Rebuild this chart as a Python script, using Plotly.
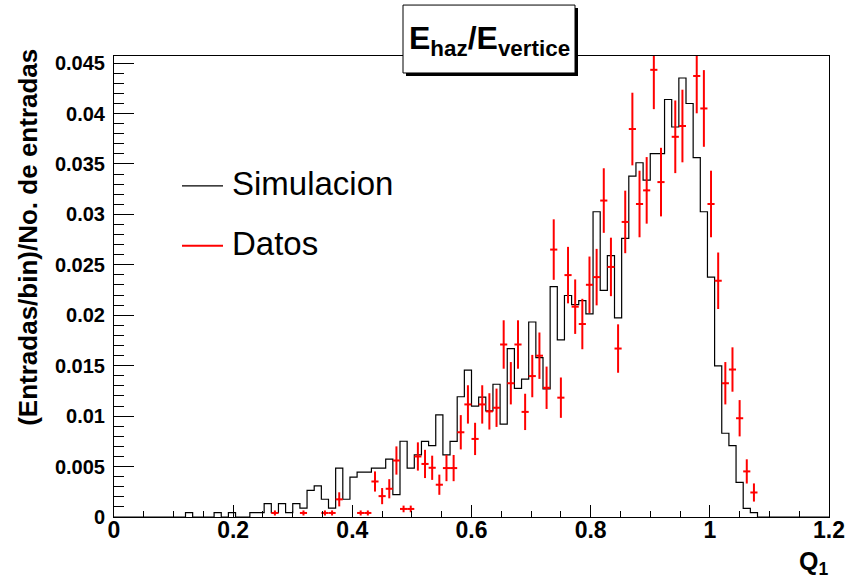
import numpy as np
import plotly.graph_objects as go

# ---------------- data ----------------
n_bins = 100
x_min, x_max = 0.0, 1.2

sim_values = [
    0, 0, 0, 0, 0, 0, 0, 0, 0, 0,
    0.00043, 0, 0, 0, 0.00043, 0, 0.00043, 0, 0, 0.00043,
    0.00043, 0.00132, 0.00043, 0.00132, 0.00043, 0.00132, 0.00088, 0.00263, 0.00308, 0.00176,
    0.00088, 0.00485, 0.00176, 0.00395, 0.00445, 0.00445, 0.00485, 0.00485, 0.00573, 0.00221,
    0.00751, 0.00485, 0.00616, 0.00749, 0.00708, 0.01012, 0.00616, 0.00749, 0.01192, 0.01456,
    0.01100, 0.01189, 0.01052, 0.01316, 0.00921, 0.01670, 0.01275, 0.01366, 0.01933, 0.01579,
    0.01271, 0.02283, 0.01756, 0.02196, 0.02105, 0.02145, 0.02014, 0.03026, 0.02247, 0.02591,
    0.01973, 0.02763, 0.03380, 0.03512, 0.03340, 0.03603, 0.03603, 0.04139, 0.03866, 0.04352,
    0.04099, 0.03562, 0.03026, 0.02378, 0.01498, 0.00830, 0.00708, 0.00344, 0.00086, 0.00043,
    0, 0, 0, 0, 0, 0, 0, 0, 0, 0,
]

data_bins = [22, 26, 29, 30, 31, 34, 35, 36, 37, 38, 39,
             40, 41, 42, 43, 44, 45, 46, 47, 48, 49,
             50, 51, 52, 53, 54, 55, 56, 57, 58, 59,
             60, 61, 62, 63, 64, 65, 66, 67, 68, 69,
             70, 71, 72, 73, 74, 75, 76, 77, 78, 79,
             80, 81, 82, 83, 84, 85, 86, 87, 88, 89]
data_values = [0.0004, 0.0004, 0.0004, 0.0004, 0.00175, 0.0004, 0.0004, 0.00352, 0.00207, 0.0028, 0.0056,
               0.0008, 0.0008, 0.0060, 0.00526, 0.00488, 0.0032, 0.00485, 0.00485, 0.0084, 0.01116,
               0.00774, 0.01116, 0.01047, 0.01083, 0.0171, 0.01326, 0.0171, 0.01042, 0.01397, 0.01599,
               0.01281, 0.02651, 0.01183, 0.02398, 0.02085, 0.01913, 0.02302, 0.02378, 0.03137, 0.02479,
               0.0167, 0.02925, 0.03846, 0.03103, 0.03238, 0.04433, 0.0332, 0.0470, 0.03769, 0.03876,
               0.0465, 0.04372, 0.0405, 0.03103, 0.02342, 0.01326, 0.01462, 0.00979, 0.00452, 0.00243]
data_errors = [0.00025, 0.00025, 0.00025, 0.00025, 0.0007, 0.00025, 0.00025, 0.001, 0.0008, 0.00095, 0.0014,
               0.00033, 0.00033, 0.0014, 0.0014, 0.0012, 0.001, 0.0013, 0.0013, 0.0017, 0.0019,
               0.0016, 0.0019, 0.0018, 0.0019, 0.0024, 0.0021, 0.0024, 0.0018, 0.0021, 0.0023,
               0.0021, 0.0030, 0.0020, 0.0028, 0.0027, 0.0025, 0.0028, 0.0028, 0.0032, 0.0029,
               0.0024, 0.0031, 0.0036, 0.0033, 0.0033, 0.0039, 0.0034, 0.0040, 0.0036, 0.0036,
               0.0040, 0.0037, 0.0038, 0.0033, 0.0028, 0.0021, 0.0022, 0.0018, 0.0012, 0.0009]

x_tick_vals = [0, 0.2, 0.4, 0.6, 0.8, 1.0, 1.2]
x_tick_text = ["0", "0.2", "0.4", "0.6", "0.8", "1", "1.2"]
y_tick_vals = [0, 0.005, 0.01, 0.015, 0.02, 0.025, 0.03, 0.035, 0.04, 0.045]
y_tick_text = ["0", "0.005", "0.01", "0.015", "0.02", "0.025", "0.03", "0.035", "0.04", "0.045"]
y_max = 0.0457

title_text = "<b>E<sub>haz</sub>/E<sub>vertice</sub></b>"
x_title = "<b>Q<sub>1</sub></b>"
y_title = "<b>(Entradas/bin)/No. de entradas</b>"
legend_labels = ["Simulacion", "Datos"]

# ---------------- figure ----------------
W, H = 845, 578
FL, FR, FT, FB = 114, 829, 56, 517.5   # frame edges in window pixels
ML, MT = FL, FT
PW, PH = FR - FL, FB - FT
MR = W - ML - PW
MB = H - MT - PH


def px(xp):
    return (xp - FL) / PW


def py(yp):
    return (FB - yp) / PH


edges = np.linspace(x_min, x_max, n_bins + 1)
width = edges[1] - edges[0]
centers = edges[:-1] + width / 2

step_x = list(edges)
step_y = list(sim_values) + [sim_values[-1]]

# ROOT skips points above the frame maximum
shown = [i for i, v in enumerate(data_values) if v <= y_max]
dx = [centers[data_bins[i]] for i in shown]
dy = [data_values[i] for i in shown]
de = [data_errors[i] for i in shown]

fig = go.Figure()
fig.add_trace(go.Scatter(
    x=step_x, y=step_y, mode="lines", line=dict(color="black", width=1.2, shape="hv"),
    showlegend=False, hoverinfo="skip"))
fig.add_trace(go.Scatter(
    x=dx, y=dy, mode="markers", marker=dict(color="red", size=2),
    error_y=dict(type="data", array=de, color="red", thickness=2, width=0),
    error_x=dict(type="constant", value=width / 2, color="red", thickness=2, width=0),
    showlegend=False))

font_family = "Liberation Sans, Arial, sans-serif"

fig.update_layout(
    width=W, height=H,
    margin=dict(l=ML, r=MR, t=MT, b=MB, autoexpand=False),
    paper_bgcolor="white", plot_bgcolor="white",
    font=dict(family=font_family, color="black"),
    showlegend=False,
)
fig.update_xaxes(
    range=[x_min, x_max], showgrid=False, zeroline=False,
    showline=True, linecolor="black", linewidth=1, mirror=True,
    ticks="inside", ticklen=12, tickcolor="black", tickwidth=1,
    tickvals=x_tick_vals, ticktext=x_tick_text,
    tickfont=dict(size=23, family=font_family, weight="bold", color="black"),
    ticklabelstandoff=-8, ticklabeloverflow="allow",
    minor=dict(ticks="inside", ticklen=6, tickcolor="black", tick0=0, dtick=0.05, showgrid=False),
)
fig.update_yaxes(
    range=[0, y_max], showgrid=False, zeroline=False,
    showline=True, linecolor="black", linewidth=1, mirror=True,
    ticks="inside", ticklen=20, tickcolor="black", tickwidth=1,
    tickvals=y_tick_vals, ticktext=y_tick_text,
    tickfont=dict(size=20, family=font_family, weight="bold", color="black"),
    ticklabelstandoff=4, ticklabeloverflow="allow",
    minor=dict(ticks="inside", ticklen=10, tickcolor="black", tick0=0, dtick=0.001, showgrid=False),
)

shapes = []
# title box shadow + box
shapes.append(dict(type="rect", xref="paper", yref="paper",
                   x0=px(406), x1=px(578), y0=py(76), y1=py(8),
                   fillcolor="black", line=dict(width=0), layer="above"))
shapes.append(dict(type="rect", xref="paper", yref="paper",
                   x0=px(403), x1=px(575), y0=py(73), y1=py(5),
                   fillcolor="white", line=dict(color="black", width=1), layer="above"))
# legend lines
shapes.append(dict(type="line", xref="paper", yref="paper",
                   x0=px(182), x1=px(223), y0=py(186), y1=py(186),
                   line=dict(color="black", width=1.2)))
shapes.append(dict(type="line", xref="paper", yref="paper",
                   x0=px(182), x1=px(223), y0=py(246), y1=py(246),
                   line=dict(color="red", width=2)))
fig.update_layout(shapes=shapes)

ann = []
ann.append(dict(text=title_text, xref="paper", yref="paper", x=px(489), y=py(40),
                xanchor="center", yanchor="middle", showarrow=False,
                font=dict(size=32, family=font_family, color="black")))
ann.append(dict(text=legend_labels[0], xref="paper", yref="paper", x=px(230), y=py(184),
                xanchor="left", yanchor="middle", showarrow=False,
                font=dict(size=33, family=font_family, color="black")))
ann.append(dict(text=legend_labels[1], xref="paper", yref="paper", x=px(230), y=py(244),
                xanchor="left", yanchor="middle", showarrow=False,
                font=dict(size=33, family=font_family, color="black")))
ann.append(dict(text=x_title, xref="paper", yref="paper", x=px(830), y=py(546),
                xanchor="right", yanchor="top", showarrow=False,
                font=dict(size=25, family=font_family, color="black")))
ann.append(dict(text=y_title, xref="paper", yref="paper", x=px(28), y=py(238),
                xanchor="center", yanchor="middle", showarrow=False, textangle=-90,
                font=dict(size=26, family=font_family, color="black")))
fig.update_layout(annotations=ann)

fig.write_html(
    "out.html",
    config={"displayModeBar": False},
    post_script="document.body.style.margin='0';document.body.style.overflow='hidden';",
)
